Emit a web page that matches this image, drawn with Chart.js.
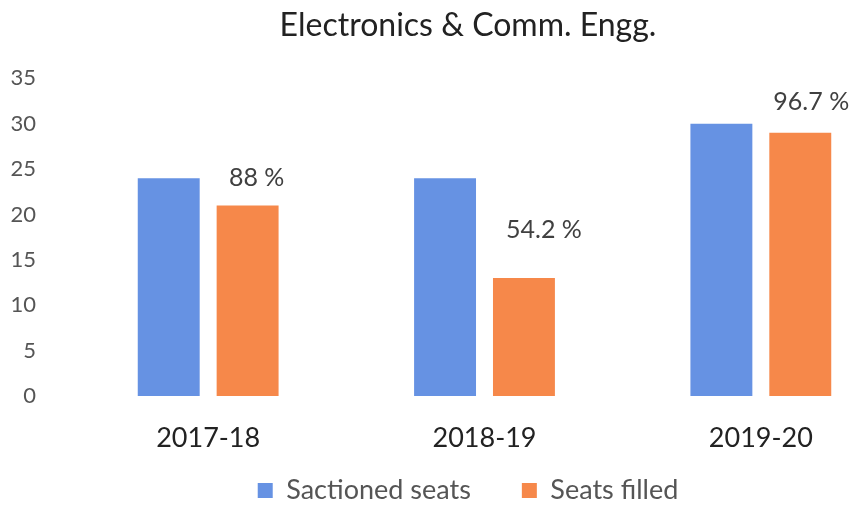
<!DOCTYPE html>
<html>
<head>
<meta charset="utf-8">
<script src="https://cdn.jsdelivr.net/npm/chart.js@4"></script>
<style>
  html, body { margin: 0; padding: 0; background: #fff; }
  #clip { width: 856px; height: 514px; overflow: hidden; }
  #wrap { width: 938px; height: 514px; position: relative; }
</style>
</head>
<body>
<div id="clip"><div id="wrap"><canvas id="chart"></canvas></div></div>
<script>
const chartTitle = 'Electronics & Comm. Engg.';
const years = ['2017-18', '2018-19', '2019-20'];
const sanctioned = [24, 24, 30];
const filled = [21, 13, 29];
const fillRate = ['88 %', '54.2 %', '96.7 %'];
const yTicks = [0, 5, 10, 15, 20, 25, 30, 35];

// nudges for the percentage labels (pixels)
const labelDx = [9, 20, 11];
const labelLift = [28, 48, 31];

const fontFamily = 'Lato, "Open Sans", sans-serif';

const pctLabels = {
    id: 'pctLabels',
    afterDatasetsDraw(chart) {
        const ctx = chart.ctx;
        const meta = chart.getDatasetMeta(1);
        ctx.save();
        ctx.font = '25px ' + fontFamily;
        ctx.fillStyle = '#404040';
        ctx.textAlign = 'center';
        ctx.textBaseline = 'middle';
        meta.data.forEach((bar, i) => {
            ctx.fillText(fillRate[i], bar.x + labelDx[i], bar.y - labelLift[i]);
        });
        ctx.restore();
    }
};

let ctx = document.getElementById('chart').getContext('2d');

let cht = new Chart(ctx, {
    type: 'bar',
    data: {
        labels: years,
        datasets: [{
            label: 'Sactioned seats',
            data: sanctioned,
            backgroundColor: '#6692e3'
        }, {
            label: 'Seats filled',
            data: filled,
            backgroundColor: '#f6884a'
        }]
    },
    plugins: [pctLabels],
    options: {
        responsive: true,
        maintainAspectRatio: false,
        animation: false,
        categoryPercentage: 0.571,
        barPercentage: 0.785,
        layout: {
            padding: { left: 10, right: 12, top: 6, bottom: 0 }
        },
        plugins: {
            title: {
                display: true,
                text: chartTitle,
                color: '#222',
                font: { family: fontFamily, size: 32, weight: 'normal' },
                padding: { top: 0, bottom: 34 }
            },
            legend: {
                position: 'bottom',
                labels: {
                    color: '#555',
                    font: { family: fontFamily, size: 27 },
                    boxWidth: 15,
                    boxHeight: 15,
                    padding: 24,
                    generateLabels(chart) {
                        const items = Chart.defaults.plugins.legend.labels.generateLabels(chart);
                        items.forEach(it => { it.lineWidth = 0; });
                        items[0].text = items[0].text + '\u2002\u2002';
                        return items;
                    }
                }
            },
            tooltip: { enabled: false }
        },
        scales: {
            x: {
                grid: { display: false, drawTicks: false },
                border: { display: false },
                afterFit(axis) {
                    axis.height = 57;
                },
                ticks: {
                    color: '#222',
                    font: { family: fontFamily, size: 27 },
                    padding: 26
                }
            },
            y: {
                min: 0,
                max: 35,
                afterBuildTicks(axis) {
                    axis.ticks = yTicks.map(v => ({ value: v }));
                },
                afterFit(axis) {
                    axis.width = 60;
                },
                grid: { display: false, drawTicks: false },
                border: { display: false },
                ticks: {
                    color: '#555',
                    font: { family: fontFamily, size: 22 },
                    padding: 34
                }
            },
            // empty right-hand axis, keeps the plot narrower than title and legend
            yRight: {
                position: 'right',
                afterFit(axis) {
                    axis.width = 27;
                },
                grid: { display: false, drawTicks: false },
                border: { display: false },
                ticks: { display: false }
            }
        }
    }
});
</script>
</body>
</html>
